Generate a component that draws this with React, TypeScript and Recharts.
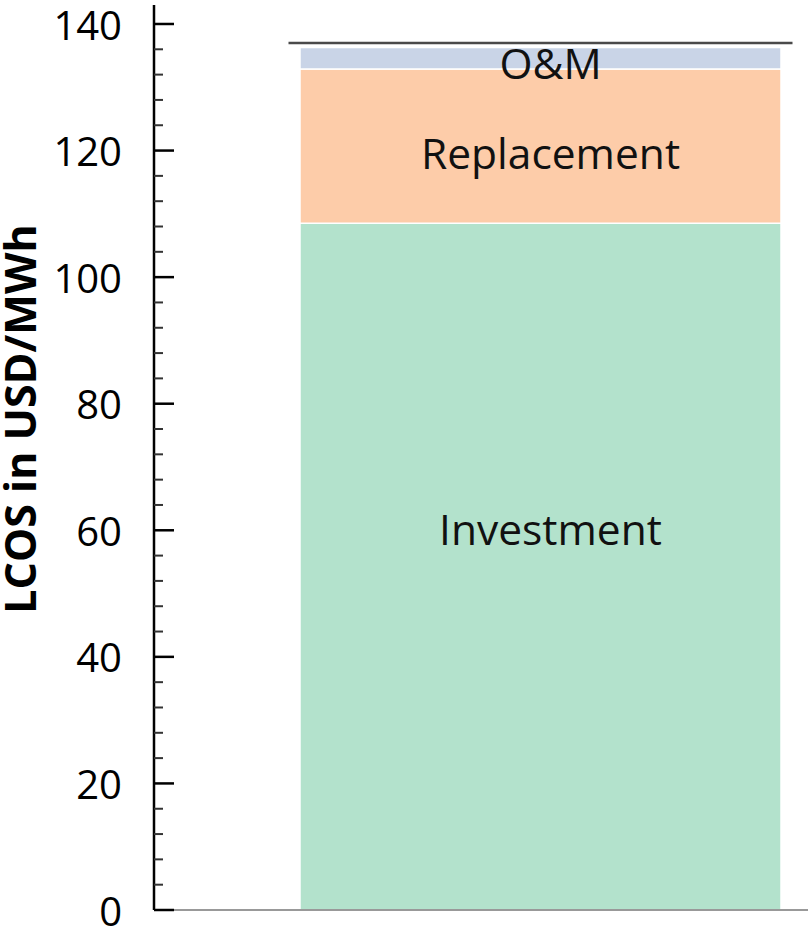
import { BarChart, Bar, XAxis, YAxis, LabelList, Label } from 'recharts';

// one storage case, cost components in USD/MWh
const categories = ['Storage'];
const investment = [108.5];
const replacement = [24.4];
const om = [3.4];
const total = [137.0];

const yTicks = [
  0, 4, 8, 12, 16, 20, 24, 28, 32, 36, 40, 44, 48, 52, 56, 60, 64, 68, 72, 76,
  80, 84, 88, 92, 96, 100, 104, 108, 112, 116, 120, 124, 128, 132, 136, 140,
];

const FONT = '"Open Sans", "Noto Sans", sans-serif';
const TICK_GAP = 32;

const data = categories.map((name, i) => ({
  name,
  investment: investment[i],
  replacement: replacement[i],
  om: om[i],
  gap: total[i] - (investment[i] + replacement[i] + om[i]),
}));

function YTick(props: any) {
  const { x, y, payload } = props;
  const axisX = x + TICK_GAP;
  const major = payload.value % 20 === 0;
  return (
    <g>
      <line
        x1={axisX}
        x2={axisX + (major ? 20 : 9)}
        y1={y}
        y2={y}
        stroke={major ? '#000' : '#333'}
        strokeWidth={major ? 2.5 : 2}
      />
      {major && (
        <text x={x} y={y} textAnchor="end" dominantBaseline="central" fontSize={40} fontFamily={FONT} fill="#000">
          {payload.value}
        </text>
      )}
    </g>
  );
}

// segment label, placed at a fraction of the segment height from its top
const segLabel = (frac: number, text: string) => (props: any) => {
  const { x, y, width, height } = props;
  return (
    <text
      x={x + width / 2 + 10}
      y={y + height * frac}
      textAnchor="middle"
      dominantBaseline="central"
      fontSize={42.5}
      fontFamily={FONT}
      fill="#111"
    >
      {text}
    </text>
  );
};

// invisible top segment: its upper edge marks the total
function TotalLine(props: any) {
  const { x, y, width } = props;
  return <line x1={x - 11.5} x2={x + width + 11.5} y1={y} y2={y} stroke="#4a4a4a" strokeWidth={2.5} />;
}

function AxisTitle(props: any) {
  const { viewBox } = props;
  const cx = viewBox.x + 19.5;
  const cy = viewBox.y + 414;
  return (
    <text
      x={cx}
      y={cy}
      transform={`rotate(-90 ${cx} ${cy})`}
      textAnchor="middle"
      dominantBaseline="central"
      fontSize={43}
      fontWeight="bold"
      fontFamily={FONT}
      fill="#000"
    >
      LCOS in USD/MWh
    </text>
  );
}

export default function App() {
  return (
    <div style={{ position: 'absolute', left: 0, top: 0, width: 808, height: 930, overflow: 'hidden', background: '#fff' }}>
      <BarChart width={808} height={930} data={data} margin={{ top: 5, right: 0, left: 0, bottom: 0 }}>
        <XAxis
          dataKey="name"
          tick={false}
          tickLine={false}
          height={20}
          axisLine={{ stroke: '#999', strokeWidth: 2 }}
          padding={{ left: 134, right: 16 }}
        />
        <YAxis
          width={154}
          domain={[0, 143]}
          ticks={yTicks}
          interval={0}
          tickSize={0}
          tickMargin={TICK_GAP}
          tickLine={false}
          tick={<YTick />}
          axisLine={{ stroke: '#000', strokeWidth: 2.5 }}
        >
          <Label content={<AxisTitle />} />
        </YAxis>
        <Bar dataKey="investment" stackId="a" fill="#b3e2cc" stroke="#fff" strokeWidth={1.5} barSize={481} isAnimationActive={false}>
          <LabelList dataKey="investment" content={segLabel(0.444, 'Investment')} />
        </Bar>
        <Bar dataKey="replacement" stackId="a" fill="#fdcca9" stroke="#fff" strokeWidth={1.5} barSize={481} isAnimationActive={false}>
          <LabelList dataKey="replacement" content={segLabel(0.54, 'Replacement')} />
        </Bar>
        <Bar dataKey="om" stackId="a" fill="#c9d4e7" stroke="#fff" strokeWidth={1.5} barSize={481} isAnimationActive={false}>
          <LabelList dataKey="om" content={segLabel(0.7, 'O&M')} />
        </Bar>
        <Bar dataKey="gap" stackId="a" fill="none" barSize={481} shape={<TotalLine />} isAnimationActive={false} />
      </BarChart>
    </div>
  );
}
